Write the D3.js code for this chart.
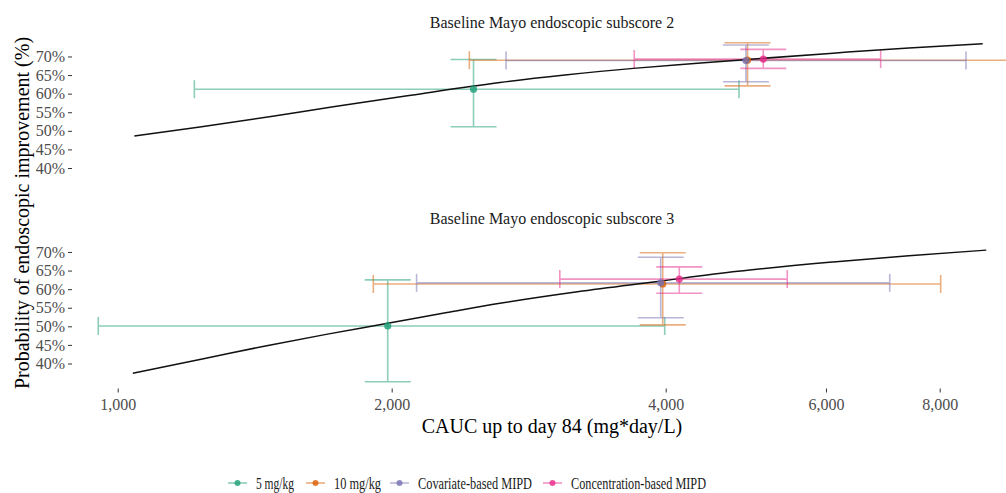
<!DOCTYPE html>
<html>
  <head>
    <script src="https://d3js.org/d3.v7.min.js"></script>
    <style>
      body { margin: 0; background: #fff; }
      text { font-family: "Liberation Serif", "Times New Roman", serif; }
    </style>
  </head>
  <body>
    <div id="graph"></div>
  <script>

    // groups and colours
    var groups = ["5 mg/kg", "10 mg/kg", "Covariate-based MIPD", "Concentration-based MIPD"];
    var colors = ["#1B9E77", "#D95F02", "#7570B3", "#E7298A"];
    var panelTitles = ["Baseline Mayo endoscopic subscore 2", "Baseline Mayo endoscopic subscore 3"];

    // baseline subscore 2 : median CAUC, CAUC interval, probability and its interval (%)
    var s2Cauc   = [2460, 4920, 4900, 5120];
    var s2CaucLo = [1214, 2434, 2671, 3694];
    var s2CaucHi = [4815, 10500, 8550, 6890];
    var s2Prob   = [61.2, 69.0, 68.9, 69.3];
    var s2ProbLo = [51.1, 62.1, 63.2, 66.8];
    var s2ProbHi = [69.2, 73.7, 73.1, 71.9];

    // baseline subscore 3
    var s3Cauc   = [1980, 3970, 3950, 4140];
    var s3CaucLo = [952, 1909, 2130, 3060];
    var s3CaucHi = [3990, 8020, 7050, 5440];
    var s3Prob   = [50.1, 61.4, 61.7, 62.7];
    var s3ProbLo = [35.1, 50.4, 52.3, 58.9];
    var s3ProbHi = [62.5, 69.8, 68.6, 66.0];

    // exposure-response curves
    var curve2Cauc = [1043, 1231, 1480, 1725, 2100, 2630, 3100, 3686, 4300, 4917, 6110, 7400, 8920];
    var curve2Prob = [48.6, 51.0, 53.9, 56.5, 59.6, 63.0, 65.0, 66.8, 68.1, 69.2, 70.9, 72.3, 73.4];
    var curve3Cauc = [1039, 1250, 1458, 1700, 1980, 2300, 2630, 3200, 3900, 4800, 6110, 7400, 9000];
    var curve3Prob = [37.4, 41.4, 44.8, 47.9, 50.8, 53.7, 56.2, 59.3, 62.0, 64.8, 67.3, 69.0, 70.5];

    var xTicks = [1000, 2000, 4000, 6000, 8000];
    var yTicks = [40, 45, 50, 55, 60, 65, 70];

    var panels = [
      {title: panelTitles[0], cauc: s2Cauc, caucLo: s2CaucLo, caucHi: s2CaucHi, prob: s2Prob, probLo: s2ProbLo, probHi: s2ProbHi, curveX: curve2Cauc, curveY: curve2Prob},
      {title: panelTitles[1], cauc: s3Cauc, caucLo: s3CaucLo, caucHi: s3CaucHi, prob: s3Prob, probLo: s3ProbLo, probHi: s3ProbHi, curveX: curve3Cauc, curveY: curve3Prob}
    ];

    var width = 1006, height = 493;
    var panelLeft = 72, panelRight = 1030, panelH = 158;
    var panelTops = [35, 230.5];

    var svg = d3.select("#graph")
                .append("svg")
                .attr("width", width)
                .attr("height", height);

    var x = d3.scaleLog()
              .domain([1000, 8000])
              .range([117.7, 939.7]);

    var y = d3.scaleLinear()
              .domain([33.27, 75.78])
              .range([panelH, 0]);

    svg.append("clipPath")
       .attr("id", "clip")
       .append("rect")
       .attr("x", panelLeft)
       .attr("y", 0)
       .attr("width", panelRight - panelLeft)
       .attr("height", panelH);

    var capW = 23, capH = 9;
    var line = d3.line()
                 .x(d => x(d[0]))
                 .y(d => y(d[1]))
                 .curve(d3.curveMonotoneX);

    panels.forEach(function(p, pi) {
      var g = svg.append("g")
                 .attr("transform", "translate(0," + panelTops[pi] + ")");

      // strip title
      g.append("text")
       .attr("x", 552)
       .attr("y", -7)
       .attr("text-anchor", "middle")
       .style("font-size", "16px")
       .style("fill", "#1a1a1a")
       .text(p.title);

      // y axis
      var yAxis = g.append("g")
                   .attr("transform", "translate(" + panelLeft + ",0)")
                   .call(d3.axisLeft(y).tickValues(yTicks).tickSize(4).tickPadding(3).tickFormat(d => d + "%"));
      yAxis.select(".domain").remove();
      yAxis.selectAll("line").attr("stroke", "#333");
      yAxis.selectAll("text")
           .style("font-family", "Liberation Serif, serif")
           .style("font-size", "16px")
           .style("fill", "#4d4d4d");

      var plot = g.append("g").attr("clip-path", "url(#clip)");

      groups.forEach(function(grp, i) {
        var c = colors[i];
        var eb = plot.append("g")
                     .attr("stroke", c)
                     .attr("stroke-width", 1.6)
                     .attr("opacity", 0.5)
                     .attr("fill", "none");
        // horizontal interval
        eb.append("line")
          .attr("x1", x(p.caucLo[i])).attr("x2", x(p.caucHi[i]))
          .attr("y1", y(p.prob[i])).attr("y2", y(p.prob[i]));
        [p.caucLo[i], p.caucHi[i]].forEach(function(v) {
          eb.append("line")
            .attr("x1", x(v)).attr("x2", x(v))
            .attr("y1", y(p.prob[i]) - capH).attr("y2", y(p.prob[i]) + capH);
        });
        // vertical interval
        eb.append("line")
          .attr("x1", x(p.cauc[i])).attr("x2", x(p.cauc[i]))
          .attr("y1", y(p.probLo[i])).attr("y2", y(p.probHi[i]));
        [p.probLo[i], p.probHi[i]].forEach(function(v) {
          eb.append("line")
            .attr("x1", x(p.cauc[i]) - capW).attr("x2", x(p.cauc[i]) + capW)
            .attr("y1", y(v)).attr("y2", y(v));
        });
      });

      // model curve
      plot.append("path")
          .datum(d3.zip(p.curveX, p.curveY))
          .attr("fill", "none")
          .attr("stroke", "#111")
          .attr("stroke-width", 1.5)
          .attr("d", line);

      // medians
      plot.selectAll(".pt")
          .data(groups)
          .enter().append("circle")
          .attr("cx", (d, i) => x(p.cauc[i]))
          .attr("cy", (d, i) => y(p.prob[i]))
          .attr("r", 3.6)
          .style("fill", (d, i) => colors[i])
          .style("opacity", 0.8);

      // x axis only under the last panel
      if (pi == 1) {
        var xAxis = g.append("g")
                     .attr("transform", "translate(0," + panelH + ")")
                     .call(d3.axisBottom(x).tickValues(xTicks).tickSize(4).tickPadding(6).tickFormat(d3.format(",")));
        xAxis.select(".domain").remove();
        xAxis.selectAll("line").attr("stroke", "#333");
        xAxis.selectAll("text")
             .style("font-family", "Liberation Serif, serif")
             .style("font-size", "16px")
             .style("fill", "#4d4d4d");
      }
    });

    // axis titles
    svg.append("text")
       .attr("x", 552)
       .attr("y", 433)
       .attr("text-anchor", "middle")
       .style("font-size", "20px")
       .text("CAUC up to day 84 (mg*day/L)");

    svg.append("text")
       .attr("transform", "translate(29,213) rotate(-90)")
       .attr("text-anchor", "middle")
       .style("font-size", "20px")
       .text("Probability of endoscopic improvement (%)");

    // legend
    var legendX = [228, 306, 390, 543];
    var legendW = [38, 47, 114, 135];
    var legend = svg.selectAll(".legend")
                    .data(groups)
                    .enter().append("g")
                    .attr("class", "legend")
                    .attr("transform", (d, i) => "translate(" + legendX[i] + ",483)");

    legend.append("line")
          .attr("x1", 0).attr("x2", 19)
          .attr("stroke", (d, i) => colors[i])
          .attr("stroke-width", 1.6)
          .attr("opacity", 0.5);

    legend.append("circle")
          .attr("cx", 9.5)
          .attr("r", 3)
          .style("fill", (d, i) => colors[i])
          .style("opacity", 0.8);

    legend.append("text")
          .attr("x", 28)
          .attr("y", 5.5)
          .attr("textLength", (d, i) => legendW[i])
          .attr("lengthAdjust", "spacingAndGlyphs")
          .style("font-size", "16.5px")
          .style("fill", "#1a1a1a")
          .text(d => d);

  </script>
  </body>
</html>
